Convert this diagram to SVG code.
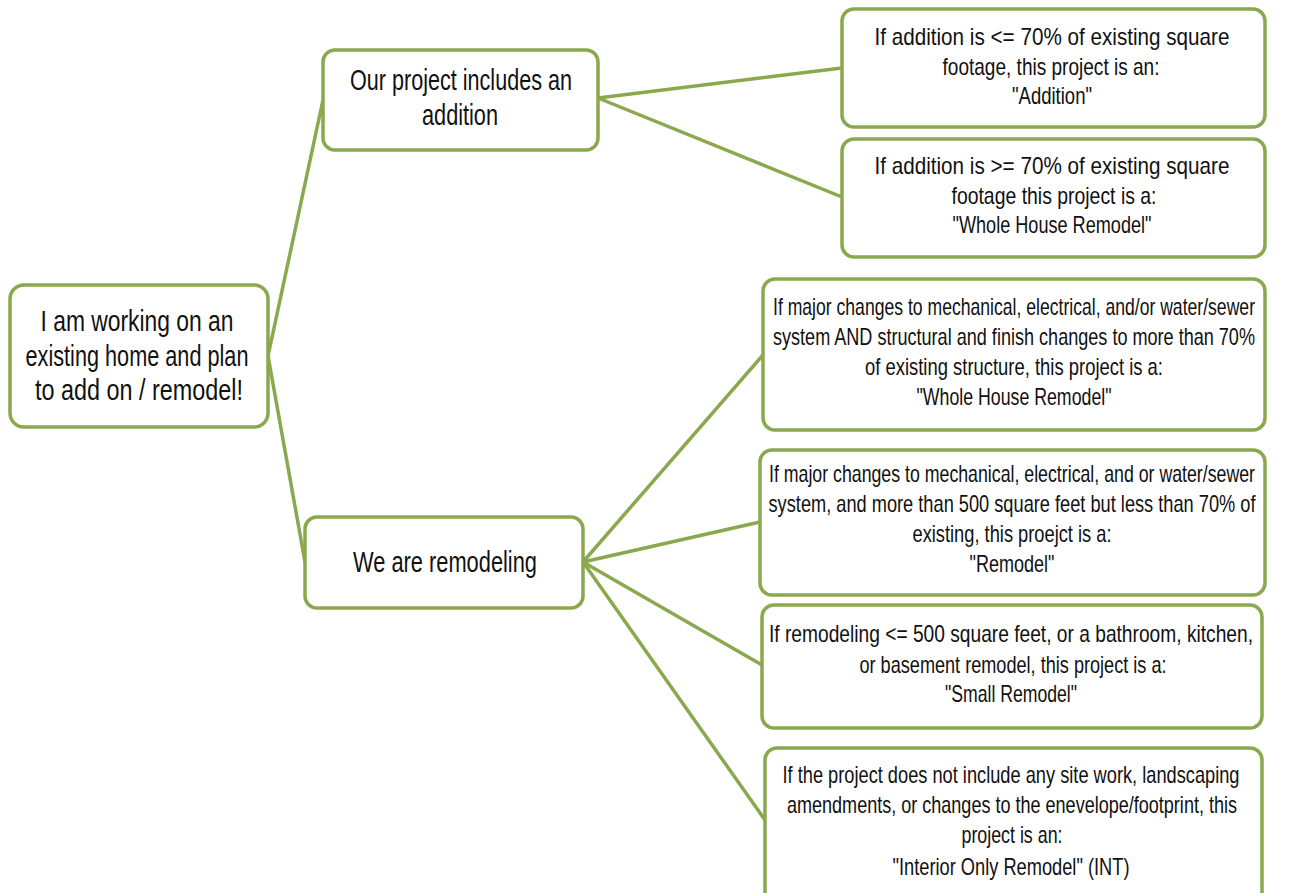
<svg xmlns="http://www.w3.org/2000/svg" width="1302" height="893" viewBox="0 0 1302 893">
<style>
.box{fill:#fff;stroke:#8AA84E;stroke-width:3.5}
.conn line{stroke:#8AA84E;stroke-width:3.5;stroke-linecap:round}
text{font-family:"Liberation Sans","DejaVu Sans",sans-serif;fill:#111;text-anchor:middle}
.big{font-size:29px}
.sm{font-size:23px}
</style>
<rect width="1302" height="893" fill="#fff"/>
<g id="connectors" class="conn">
<line x1="268" y1="356" x2="323" y2="100"/>
<line x1="268" y1="356" x2="305" y2="562"/>
<line x1="598" y1="98" x2="842" y2="68"/>
<line x1="598" y1="98" x2="842" y2="197"/>
<line x1="583" y1="562" x2="763" y2="355"/>
<line x1="583" y1="562" x2="760" y2="522"/>
<line x1="583" y1="562" x2="762" y2="665"/>
<line x1="583" y1="562" x2="765" y2="820"/>
</g>
<g id="root">
<rect class="box" x="10" y="285" width="258" height="142" rx="14"/>
<g transform="scale(0.72,1)">
<text class="big" x="190.28" y="331" textLength="268.06" lengthAdjust="spacingAndGlyphs">I am working on an</text>
<text class="big" x="190.28" y="366" textLength="309.72" lengthAdjust="spacingAndGlyphs">existing home and plan</text>
<text class="big" x="193.06" y="400" textLength="288.89" lengthAdjust="spacingAndGlyphs">to add on / remodel!</text>
</g>
</g>
<g id="addition">
<rect class="box" x="323" y="50" width="275" height="100" rx="12"/>
<g transform="scale(0.72,1)">
<text class="big" x="640.28" y="90" textLength="308.33" lengthAdjust="spacingAndGlyphs">Our project includes an</text>
<text class="big" x="638.89" y="125" textLength="105.56" lengthAdjust="spacingAndGlyphs">addition</text>
</g>
</g>
<g id="remodeling">
<rect class="box" x="305" y="517" width="278" height="91" rx="12"/>
<g transform="scale(0.72,1)">
<text class="big" x="618.06" y="572" textLength="255.56" lengthAdjust="spacingAndGlyphs">We are remodeling</text>
</g>
</g>
<g id="n-addition">
<rect class="box" x="842" y="9" width="423" height="118" rx="12"/>
<g transform="scale(0.72,1)">
<text class="sm" x="1461.11" y="45" textLength="493.06" lengthAdjust="spacingAndGlyphs">If addition is &lt;= 70% of existing square</text>
<text class="sm" x="1459.72" y="75" textLength="301.39" lengthAdjust="spacingAndGlyphs">footage, this project is an:</text>
<text class="sm" x="1461.11" y="104" textLength="111.11" lengthAdjust="spacingAndGlyphs">"Addition"</text>
</g>
</g>
<g id="n-whole-add">
<rect class="box" x="842" y="139" width="423" height="118" rx="12"/>
<g transform="scale(0.72,1)">
<text class="sm" x="1461.11" y="174" textLength="493.06" lengthAdjust="spacingAndGlyphs">If addition is &gt;= 70% of existing square</text>
<text class="sm" x="1463.89" y="204" textLength="284.72" lengthAdjust="spacingAndGlyphs">footage this project is a:</text>
<text class="sm" x="1461.11" y="233" textLength="276.39" lengthAdjust="spacingAndGlyphs">"Whole House Remodel"</text>
</g>
</g>
<g id="n-whole-rem">
<rect class="box" x="763" y="279" width="502" height="151" rx="12"/>
<g transform="scale(0.72,1)">
<text class="sm" x="1408.33" y="315" textLength="669.44" lengthAdjust="spacingAndGlyphs">If major changes to mechanical, electrical, and/or water/sewer</text>
<text class="sm" x="1408.33" y="345" textLength="669.44" lengthAdjust="spacingAndGlyphs">system AND structural and finish changes to more than 70%</text>
<text class="sm" x="1408.33" y="375" textLength="413.89" lengthAdjust="spacingAndGlyphs">of existing structure, this project is a:</text>
<text class="sm" x="1408.33" y="405" textLength="270.83" lengthAdjust="spacingAndGlyphs">"Whole House Remodel"</text>
</g>
</g>
<g id="n-remodel">
<rect class="box" x="760" y="450" width="505" height="145" rx="12"/>
<g transform="scale(0.72,1)">
<text class="sm" x="1405.56" y="482" textLength="675" lengthAdjust="spacingAndGlyphs">If major changes to mechanical, electrical, and or water/sewer</text>
<text class="sm" x="1405.56" y="512" textLength="676.39" lengthAdjust="spacingAndGlyphs">system, and more than 500 square feet but less than 70% of</text>
<text class="sm" x="1405.56" y="542" textLength="276.39" lengthAdjust="spacingAndGlyphs">existing, this proejct is a:</text>
<text class="sm" x="1405.56" y="572" textLength="118.06" lengthAdjust="spacingAndGlyphs">"Remodel"</text>
</g>
</g>
<g id="n-small">
<rect class="box" x="762" y="605" width="500" height="123" rx="12"/>
<g transform="scale(0.72,1)">
<text class="sm" x="1404.17" y="642" textLength="672.22" lengthAdjust="spacingAndGlyphs">If remodeling &lt;= 500 square feet, or a bathroom,  kitchen,</text>
<text class="sm" x="1406.94" y="673" textLength="426.39" lengthAdjust="spacingAndGlyphs">or basement remodel, this project is a:</text>
<text class="sm" x="1404.17" y="702" textLength="183.33" lengthAdjust="spacingAndGlyphs">"Small Remodel"</text>
</g>
</g>
<g id="n-interior">
<rect class="box" x="765" y="748" width="497" height="160" rx="12"/>
<g transform="scale(0.72,1)">
<text class="sm" x="1404.17" y="783" textLength="634.72" lengthAdjust="spacingAndGlyphs">If the project does not include any site work, landscaping</text>
<text class="sm" x="1405.56" y="813" textLength="625" lengthAdjust="spacingAndGlyphs">amendments, or changes to the enevelope/footprint,  this</text>
<text class="sm" x="1405.56" y="843" textLength="140.28" lengthAdjust="spacingAndGlyphs">project is an:</text>
<text class="sm" x="1404.17" y="875" textLength="329.17" lengthAdjust="spacingAndGlyphs">"Interior Only Remodel" (INT)</text>
</g>
</g>
</svg>
